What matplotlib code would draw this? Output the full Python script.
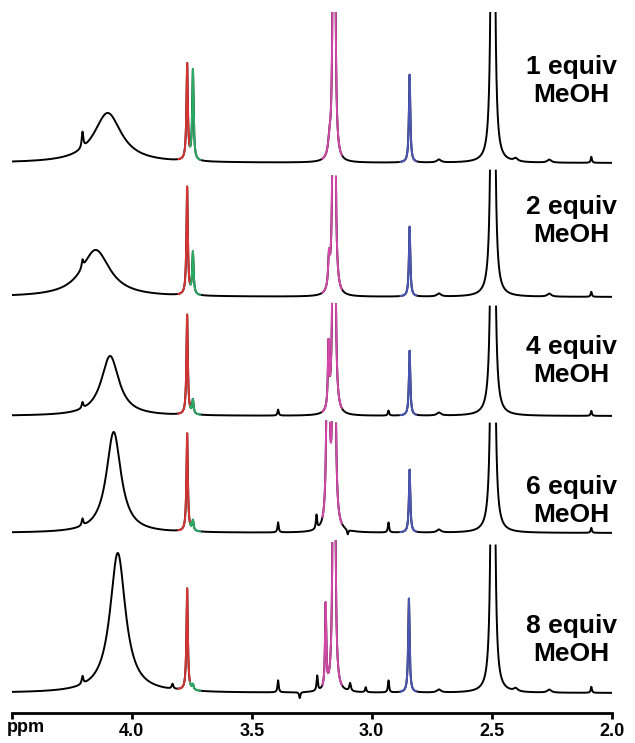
import numpy as np
import matplotlib
matplotlib.use("Agg")
import matplotlib.pyplot as plt

# ---------------- data ----------------
labels = ["1 equiv\nMeOH", "2 equiv\nMeOH", "4 equiv\nMeOH", "6 equiv\nMeOH", "8 equiv\nMeOH"]
tick_values = [4.5, 4.0, 3.5, 3.0, 2.5, 2.0]
tick_labels = ["", "4.0", "3.5", "3.0", "2.5", "2.0"]

# peaks per spectrum: (ppm, height, half-width at half max in ppm)
peaks_1 = [(4.100, 50, 0.070), (4.205, 16, 0.004), (3.769, 96, 0.0035), (3.745, 90, 0.0035),
           (3.176, 14, 0.006), (3.157, 2000, 0.002), (2.842, 88, 0.0035), (2.495, 4000, 0.0022),
           (2.72, 3, 0.010), (2.40, 3, 0.010), (2.26, 3, 0.010), (2.085, 6, 0.003)]
peaks_2 = [(4.150, 47, 0.072), (4.205, 8, 0.004), (3.769, 108, 0.0035), (3.745, 42, 0.0035),
           (3.178, 30, 0.004), (3.157, 2000, 0.002), (2.842, 70, 0.0035), (2.495, 4000, 0.0022),
           (2.72, 3, 0.010), (2.26, 3, 0.010), (2.085, 5, 0.003)]
peaks_3 = [(4.090, 60, 0.045), (4.205, 6, 0.004), (3.769, 100, 0.0035), (3.745, 14, 0.0035),
           (3.39, 6, 0.003), (3.180, 62, 0.003), (3.157, 2000, 0.002), (2.93, 5, 0.003),
           (2.842, 65, 0.0035), (2.495, 4000, 0.0022), (2.72, 3, 0.010), (2.085, 5, 0.003)]
peaks_4 = [(4.075, 101, 0.037), (4.205, 7, 0.004), (3.769, 98, 0.0035), (3.745, 10, 0.0035),
           (3.39, 10, 0.003), (3.23, 14, 0.003), (3.182, 2000, 0.0018), (3.157, 2000, 0.002),
           (3.10, -5, 0.003), (2.93, 10, 0.003), (2.842, 63, 0.0035), (2.495, 4000, 0.0022),
           (2.72, 3, 0.010), (2.085, 5, 0.003)]
peaks_5 = [(4.058, 140, 0.039), (4.205, 8, 0.004), (3.83, 5, 0.004), (3.769, 102, 0.0035),
           (3.745, 5, 0.0035), (3.39, 12, 0.003), (3.30, -6, 0.003), (3.227, 15, 0.003),
           (3.192, 84, 0.003), (3.157, 2000, 0.002), (3.09, 8, 0.004), (3.025, 5, 0.003),
           (2.93, 12, 0.003), (2.845, 94, 0.0035), (2.495, 4000, 0.0022),
           (2.72, 3, 0.010), (2.40, 3, 0.010), (2.26, 3, 0.010), (2.085, 6, 0.003)]
spectra = [peaks_1, peaks_2, peaks_3, peaks_4, peaks_5]

# coloured signal regions: (ppm high, ppm low, colour)
color_regions = [(3.805, 3.757, "#d83434"), (3.757, 3.715, "#2aac66"),
                 (3.205, 3.125, "#d548aa"), (2.880, 2.815, "#4a56b4")]

# ---------------- layout ----------------
W, H = 635, 743
AXIS_PIX = 713
TOP_PIX = 12
BASE_PIX = [163, 297, 416, 533, 693]
LABEL_PIX = [81, 221, 361, 501, 640]
LEFT_PIX, RIGHT_PIX = 11.7, 611.7

fig = plt.figure(figsize=(W / 100, H / 100), dpi=100)
ax = fig.add_axes([LEFT_PIX / W, (H - AXIS_PIX) / H,
                   (RIGHT_PIX - LEFT_PIX) / W, (AXIS_PIX - TOP_PIX) / H])

x = np.linspace(4.5, 2.0, 8001)


def spectrum(peaks):
    y = np.zeros_like(x)
    for c, h, g in peaks:
        y += h * g ** 2 / ((x - c) ** 2 + g ** 2)
    return y


offsets = [AXIS_PIX - b for b in BASE_PIX]
for i, peaks in enumerate(spectra):
    y = spectrum(peaks)
    if i > 0:
        cap = offsets[i - 1] - offsets[i] - 5
        y = np.where(y > cap, np.nan, y)
    y = y + offsets[i]
    ax.plot(x, y, color="black", lw=1.4, zorder=2)
    for hi, lo, col in color_regions:
        m = (x <= hi) & (x >= lo)
        ax.plot(x[m], y[m], color=col, lw=1.4, zorder=3)

ax.set_xlim(4.5, 2.0)
ax.set_ylim(0, AXIS_PIX - TOP_PIX)
for s in ["top", "left", "right"]:
    ax.spines[s].set_visible(False)
ax.spines["bottom"].set_linewidth(2.0)
ax.set_yticks([])
ax.set_xticks(tick_values)
ax.set_xticklabels(tick_labels, fontsize=13, fontweight="bold", family="Liberation Sans")
ax.tick_params(axis="x", direction="out", length=4, width=2, pad=3)

fig.text(7 / W, 1 - 728 / H, "ppm", fontsize=13, fontweight="bold",
         family="Liberation Sans", ha="left", va="center")

for lab, yp in zip(labels, LABEL_PIX):
    fig.text(571 / W, 1 - yp / H, lab, fontsize=19, fontweight="bold",
             family="Liberation Sans", ha="center", va="center", linespacing=1.2)

fig.savefig("out.png", dpi=100)
